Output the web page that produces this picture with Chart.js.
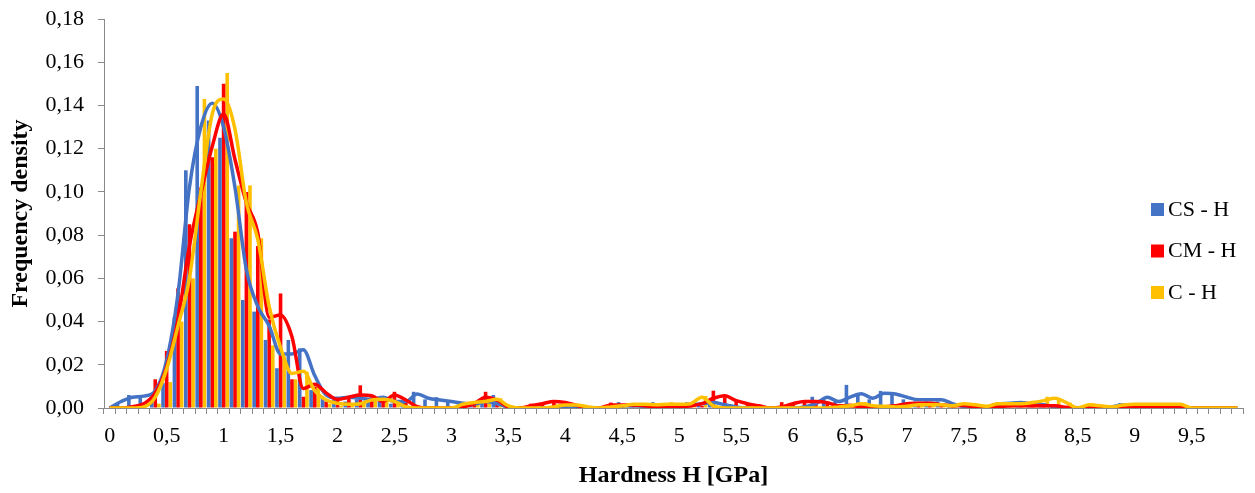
<!DOCTYPE html>
<html>
<head>
<meta charset="utf-8">
<script src="https://cdn.jsdelivr.net/npm/chart.js@4.4.1/dist/chart.umd.min.js"></script>
<style>
  body { margin: 0; background: #fff; }
  #wrap { width: 1255px; height: 493px; }
</style>
</head>
<body>
<div id="wrap"><canvas id="myChart"></canvas></div>
<script>
// bins of hardness H [GPa]
const hardness = [
  0.0, 0.1, 0.2, 0.3, 0.4, 0.5, 0.6, 0.7, 0.8, 0.9,
  1.0, 1.1, 1.2, 1.3, 1.4, 1.5, 1.6, 1.7, 1.8, 1.9,
  2.0, 2.1, 2.2, 2.3, 2.4, 2.5, 2.6, 2.7, 2.8, 2.9,
  3.0, 3.1, 3.2, 3.3, 3.4, 3.5, 3.6, 3.7, 3.8, 3.9,
  4.0, 4.1, 4.2, 4.3, 4.4, 4.5, 4.6, 4.7, 4.8, 4.9,
  5.0, 5.1, 5.2, 5.3, 5.4, 5.5, 5.6, 5.7, 5.8, 5.9,
  6.0, 6.1, 6.2, 6.3, 6.4, 6.5, 6.6, 6.7, 6.8, 6.9,
  7.0, 7.1, 7.2, 7.3, 7.4, 7.5, 7.6, 7.7, 7.8, 7.9,
  8.0, 8.1, 8.2, 8.3, 8.4, 8.5, 8.6, 8.7, 8.8, 8.9,
  9.0, 9.1, 9.2, 9.3, 9.4, 9.5, 9.6, 9.7, 9.8, 9.9
]

const xTickLabels = ['0', '0,5', '1', '1,5', '2', '2,5', '3', '3,5', '4', '4,5',
  '5', '5,5', '6', '6,5', '7', '7,5', '8', '8,5', '9', '9,5']
const yTickLabels = ['0,00', '0,02', '0,04', '0,06', '0,08', '0,10', '0,12', '0,14', '0,16', '0,18']

const seriesNames = ['CS - H', 'CM - H', 'C - H']
const seriesColors = ['#4472C4', '#FF0000', '#FFC000']

// histogram bars (frequency density)
const csBars = [
  0, 0.002, 0.006, 0.005, 0.005, 0.0115, 0.042, 0.110, 0.149, 0.133,
  0.125, 0.0786, 0.050, 0.0446, 0.0315, 0.0184, 0.0315, 0.0276, 0.0083, 0.0052,
  0.004, 0.003, 0.004, 0.004, 0.005, 0.002, 0.003, 0.0075, 0.004, 0.005,
  0.003, 0.002, 0.002, 0.004, 0.006, 0.001, 0, 0, 0, 0,
  0, 0, 0.001, 0, 0, 0.0027, 0.001, 0, 0.0027, 0,
  0.001, 0.0027, 0.002, 0.0025, 0.001, 0, 0, 0, 0, 0,
  0, 0, 0.0052, 0.004, 0.003, 0.0107, 0.006, 0.004, 0.0079, 0.0068,
  0.004, 0.003, 0.003, 0.003, 0.002, 0.001, 0, 0, 0.002, 0.0025,
  0.002, 0.002, 0.001, 0, 0, 0, 0, 0, 0, 0.0022,
  0.001, 0, 0, 0, 0, 0, 0, 0, 0, 0
]
const cmBars = [
  0, 0, 0.0005, 0.001, 0.0133, 0.0264, 0.0554, 0.085, 0.102, 0.116,
  0.150, 0.0816, 0.100, 0.075, 0.041, 0.053, 0.0133, 0.0052, 0.0099, 0.003,
  0.004, 0.005, 0.0105, 0.005, 0.003, 0.0075, 0.003, 0.001, 0.0005, 0.0005,
  0.0005, 0.0005, 0.002, 0.0075, 0.004, 0, 0, 0.002, 0.0025, 0.003,
  0.002, 0.001, 0, 0, 0.0025, 0.001, 0.001, 0.001, 0.001, 0.001,
  0.001, 0.001, 0.001, 0.008, 0.005, 0.003, 0.002, 0.001, 0, 0.0027,
  0.002, 0.003, 0.003, 0.002, 0.001, 0.002, 0.0005, 0, 0, 0,
  0.0025, 0.002, 0.002, 0.0015, 0.001, 0.0022, 0.0005, 0.0005, 0.0005, 0.001,
  0.001, 0.001, 0.001, 0.001, 0, 0, 0, 0, 0, 0,
  0.0005, 0.0005, 0.0005, 0.0005, 0.0005, 0, 0, 0, 0, 0
]
const cBars = [
  0, 0, 0, 0, 0.002, 0.012, 0.040, 0.060, 0.143, 0.120,
  0.155, 0.103, 0.103, 0.0786, 0.029, 0.0238, 0.0133, 0.0168, 0.0107, 0.002,
  0.001, 0.001, 0.002, 0.004, 0.004, 0.003, 0.001, 0, 0, 0,
  0, 0.002, 0.003, 0.004, 0.0045, 0.001, 0, 0, 0, 0.001,
  0.0017, 0.0017, 0.0005, 0, 0.001, 0.0015, 0.002, 0.002, 0.0015, 0.0027,
  0.002, 0.002, 0.0055, 0.001, 0, 0, 0, 0, 0, 0,
  0, 0, 0, 0, 0.0005, 0.001, 0.0027, 0.001, 0.001, 0.0005,
  0.001, 0.0015, 0.0015, 0.0015, 0.001, 0.0022, 0.0015, 0.001, 0.0022, 0.002,
  0.002, 0.0025, 0.0052, 0.0045, 0.0025, 0, 0.0022, 0.001, 0.0005, 0.0014,
  0.0017, 0.0022, 0.0017, 0.0022, 0.0017, 0, 0, 0, 0, 0
]

// fitted curves
const csLine = [
  0, 0.003, 0.005, 0.0055, 0.008, 0.022, 0.053, 0.102, 0.130, 0.141,
  0.130, 0.102, 0.064, 0.047, 0.038, 0.025, 0.025, 0.027, 0.015, 0.006,
  0.0045, 0.005, 0.0045, 0.004, 0.005, 0.003, 0.003, 0.0065, 0.0045, 0.0037,
  0.003, 0.0022, 0.0018, 0.003, 0.002, 0.0005, 0, 0, 0, 0,
  0, 0, 0, 0, 0, 0.001, 0.001, 0.0008, 0.001, 0.001,
  0.001, 0.0015, 0.002, 0.0025, 0.0015, 0.0005, 0, 0, 0, 0,
  0, 0.0005, 0.002, 0.005, 0.003, 0.005, 0.0066, 0.0045, 0.0068, 0.0065,
  0.005, 0.0038, 0.0038, 0.0038, 0.002, 0.0007, 0.0003, 0.0005, 0.0018, 0.0022,
  0.0025, 0.002, 0.0015, 0.0005, 0, 0, 0, 0, 0.0005, 0.0015,
  0.001, 0.0008, 0, 0, 0, 0, 0, 0, 0, 0
]
const cmLine = [
  0, 0, 0.0006, 0.002, 0.007, 0.019, 0.041, 0.075, 0.099, 0.121,
  0.136, 0.115, 0.095, 0.081, 0.042, 0.043, 0.033, 0.009, 0.011, 0.007,
  0.004, 0.005, 0.006, 0.0057, 0.003, 0.006, 0.0037, 0.0006, 0, 0,
  0, 0.0005, 0.002, 0.005, 0.0037, 0.0005, 0, 0.001, 0.002, 0.003,
  0.0025, 0.0012, 0, 0, 0.0014, 0.0014, 0.0014, 0.001, 0.0005, 0.0005,
  0.0005, 0.001, 0.002, 0.0045, 0.0057, 0.0034, 0.002, 0.001, 0, 0.0005,
  0.002, 0.003, 0.003, 0.0025, 0.001, 0.0012, 0.0005, 0, 0.0005, 0.001,
  0.002, 0.0022, 0.0022, 0.0015, 0.001, 0.0012, 0.0005, 0.0003, 0.0005, 0.001,
  0.001, 0.001, 0.001, 0.001, 0.0003, 0, 0, 0, 0, 0,
  0.0003, 0.0003, 0.0003, 0.0003, 0.0003, 0, 0, 0, 0, 0
]
const cLine = [
  0, 0, 0, 0.0005, 0.005, 0.018, 0.038, 0.060, 0.100, 0.136,
  0.143, 0.129, 0.095, 0.078, 0.047, 0.028, 0.016, 0.017, 0.008, 0.0037,
  0.0022, 0.0017, 0.002, 0.0037, 0.004, 0.003, 0.0006, 0, 0, 0,
  0, 0.0017, 0.0025, 0.003, 0.004, 0.001, 0, 0, 0, 0.0005,
  0.0014, 0.0014, 0.0005, 0, 0.0005, 0.001, 0.0017, 0.0017, 0.0015, 0.0017,
  0.0017, 0.002, 0.005, 0.001, 0, 0, 0, 0, 0, 0,
  0, 0, 0, 0, 0.0005, 0.001, 0.002, 0.001, 0.0008, 0.0005,
  0.0008, 0.0015, 0.0015, 0.0015, 0.001, 0.002, 0.0015, 0.0008, 0.002, 0.002,
  0.002, 0.0025, 0.0034, 0.0045, 0.0025, 0, 0.0015, 0.001, 0.0005, 0.0014,
  0.0017, 0.0017, 0.0017, 0.0017, 0.0017, 0, 0, 0, 0, 0
]

const axisGray = '#898989'
const serif = "'Liberation Serif', 'Times New Roman', serif"

Chart.defaults.font.family = serif
Chart.defaults.font.size = 22
Chart.defaults.color = '#000'

// legend drawn inside the plot, like the original
const innerLegend = {
  id: 'innerLegend',
  afterDraw(chart) {
    const ctx = chart.ctx
    ctx.save()
    ctx.font = '22px ' + serif
    ctx.textBaseline = 'middle'
    seriesNames.forEach((name, i) => {
      const y = 209 + i * 41.5
      ctx.fillStyle = seriesColors[i]
      ctx.fillRect(1151, y - 6, 13, 13)
      ctx.fillStyle = '#000'
      ctx.fillText(name, 1168, y + 1)
    })
    ctx.restore()
  }
}

const lineSet = (label, data, color, order) => ({
  type: 'line',
  label: label,
  data: data,
  borderColor: color,
  backgroundColor: color,
  borderWidth: 3.5,
  pointRadius: 0,
  cubicInterpolationMode: 'monotone',
  fill: false,
  order: order
})

const barSet = (label, data, color, order) => ({
  type: 'bar',
  label: label,
  data: data,
  backgroundColor: color,
  borderWidth: 0,
  categoryPercentage: 0.95,
  barPercentage: 1.0,
  order: order
})

let myChart = document.getElementById('myChart').getContext('2d')

let hardnessChart = new Chart(myChart, {
  type: 'bar',
  data: {
    labels: hardness,
    datasets: [
      lineSet(seriesNames[2], cLine, seriesColors[2], 0),
      lineSet(seriesNames[1], cmLine, seriesColors[1], 1),
      lineSet(seriesNames[0], csLine, seriesColors[0], 2),
      barSet(seriesNames[0], csBars, seriesColors[0], 3),
      barSet(seriesNames[1], cmBars, seriesColors[1], 4),
      barSet(seriesNames[2], cBars, seriesColors[2], 5)
    ]
  },
  options: {
    responsive: true,
    maintainAspectRatio: false,
    animation: false,
    layout: { padding: { top: 19, right: 12, bottom: 0, left: 0 } },
    plugins: {
      legend: { display: false },
      tooltip: { enabled: false }
    },
    scales: {
      x: {
        offset: true,
        grid: {
          offset: true,
          drawOnChartArea: false,
          color: axisGray,
          tickLength: 6
        },
        border: { color: axisGray, width: 1 },
        ticks: {
          autoSkip: false,
          maxRotation: 0,
          padding: 9,
          callback: (value, index) => index % 5 === 0 ? xTickLabels[index / 5] : ''
        },
        title: {
          display: true,
          text: 'Hardness H [GPa]',
          font: { size: 24, weight: 'bold' },
          padding: { top: 0, bottom: 3 }
        },
        afterFit: (scale) => {
          scale.height = 85
          scale.paddingLeft = 0
          scale.paddingRight = 0
        }
      },
      y: {
        min: 0,
        max: 0.18,
        grid: {
          drawOnChartArea: false,
          color: axisGray,
          tickLength: 6
        },
        border: { color: axisGray, width: 1 },
        ticks: {
          stepSize: 0.02,
          padding: 14,
          callback: (value, index) => yTickLabels[index]
        },
        title: {
          display: true,
          text: 'Frequency density',
          font: { size: 24, weight: 'bold' },
          padding: { top: 6, bottom: 0 }
        },
        afterFit: (scale) => {
          scale.width = 104
          scale.paddingTop = 0
          scale.paddingBottom = 0
        }
      }
    }
  },
  plugins: [innerLegend]
})
</script>
</body>
</html>
